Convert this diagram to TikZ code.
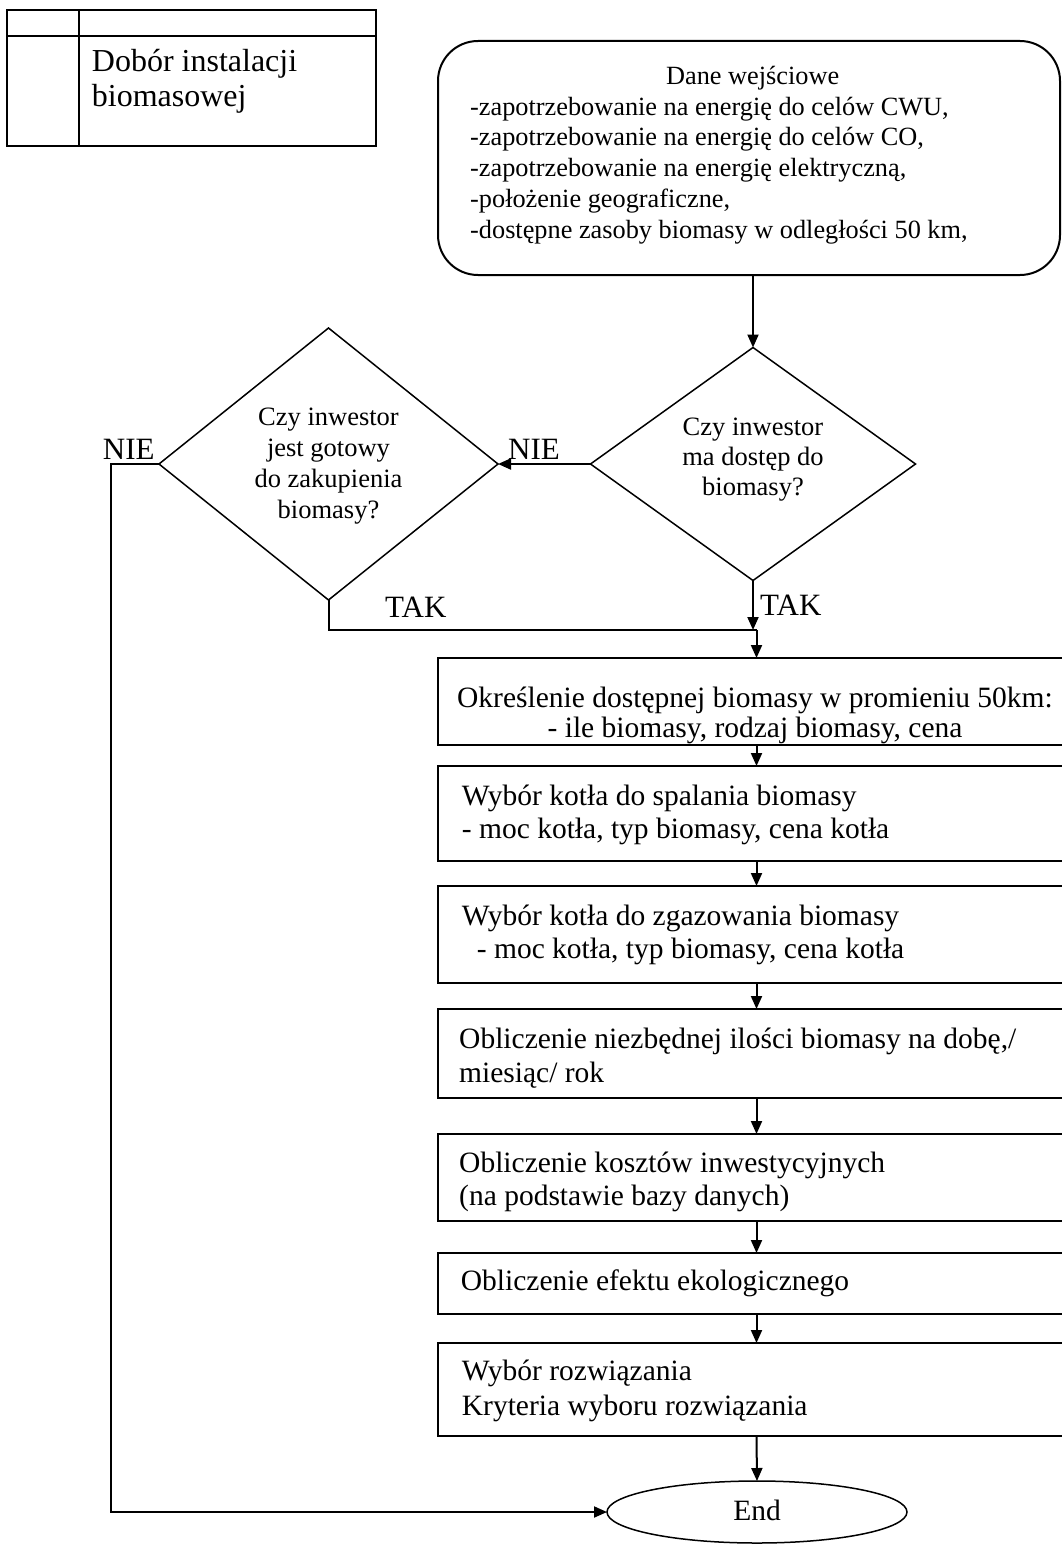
\documentclass[tikz,border=0pt]{standalone}
\usepackage{fontspec}
\setmainfont{Liberation Serif}
\usetikzlibrary{arrows.meta,shapes.geometric}
\begin{document}
\begin{tikzpicture}[x=1pt,y=-1pt,
  frame/.style={draw, line width=2pt},
  stepbox/.style={draw, line width=2pt, rectangle, inner sep=0pt, outer sep=0pt,
    minimum width=637pt, anchor=north west},
  decision/.style={draw, line width=1.5pt, diamond, inner sep=0pt, outer sep=0pt},
  arr/.style={line width=2pt, -{Triangle[length=13pt,width=11pt]}},
  conn/.style={line width=2pt},
  boxtxt/.style={inner sep=0pt, align=left, anchor=north west,
    font=\fontsize{29.5}{33}\selectfont},
  decisiontxt/.style={inner sep=0pt, align=center, anchor=north},
  tag/.style={inner sep=0pt, anchor=base west, font=\fontsize{31}{36}\selectfont}
]
\useasboundingbox (0,0) rectangle (1062,1544);
\clip (0,0) rectangle (1062,1544);

% title block
\draw[frame] (7,10) rectangle (376,146);
\draw[frame] (7,36) -- (376,36);
\draw[frame] (79,10) -- (79,146);
\node[inner sep=0pt, align=left, anchor=north west, font=\fontsize{32}{35}\selectfont]
  (title) at (91.7,47.2) {\strut Dobór instalacji\\biomasowej};

% input data
\node[draw, line width=2pt, rectangle, rounded corners=40pt, inner sep=0pt, outer sep=0pt,
  minimum width=622pt, minimum height=234pt] (dane) at (749,158) {};
\node[inner sep=0pt, anchor=base, font=\fontsize{26.3}{30.8}\selectfont]
  (danehead) at (752.7,85) {Dane wejściowe};
\node[inner sep=0pt, align=left, anchor=north west, font=\fontsize{26.3}{30.8}\selectfont]
  (danelist) at (470,93.4) {\strut -zapotrzebowanie na energię do celów CWU,\\
  -zapotrzebowanie na energię do celów CO,\\
  -zapotrzebowanie na energię elektryczną,\\
  -położenie geograficzne,\\
  -dostępne zasoby biomasy w odległości 50 km,};

% decisions
\node[decision, minimum width=325pt, minimum height=233pt] (d1) at (753,464) {};
\node[decisiontxt, font=\fontsize{26.5}{30.35}\selectfont] (d1txt) at (753,413.75)
  {\strut Czy inwestor\\ma dostęp do\\biomasy?};
\node[decision, minimum width=339pt, minimum height=272pt] (d2) at (328.5,464) {};
\node[decisiontxt, font=\fontsize{26.5}{31.1}\selectfont] (d2txt) at (328.5,403.2)
  {\strut Czy inwestor\\jest gotowy\\do zakupienia\\biomasy?};

% process steps
\node[stepbox, minimum height=87pt] (b1) at (438,658) {};
\node[inner sep=0pt, align=center, anchor=north, font=\fontsize{29.5}{30}\selectfont]
  (b1txt) at (755,686) {\strut Określenie dostępnej biomasy w promieniu 50km:\\- ile biomasy, rodzaj biomasy, cena};
\node[stepbox, minimum height=95pt] (b2) at (438,766) {};
\node[boxtxt] (b2txt) at (461.7,781.9) {\strut Wybór kotła do spalania biomasy\\- moc kotła, typ biomasy, cena kotła};
\node[stepbox, minimum height=97pt] (b3) at (438,886) {};
\node[boxtxt] (b3txt) at (461.7,901.9) {\strut Wybór kotła do zgazowania biomasy\\\hspace*{15pt}- moc kotła, typ biomasy, cena kotła};
\node[stepbox, minimum height=89pt] (b4) at (438,1009) {};
\node[boxtxt, font=\fontsize{29.5}{34}\selectfont] (b4txt) at (459,1024.2) {\strut Obliczenie niezbędnej ilości biomasy na dobę,/\\miesiąc/ rok};
\node[stepbox, minimum height=87pt] (b5) at (438,1134) {};
\node[boxtxt] (b5txt) at (459,1148.9) {\strut Obliczenie kosztów inwestycyjnych\\(na podstawie bazy danych)};
\node[stepbox, minimum height=61pt] (b6) at (438,1253) {};
\node[inner sep=0pt, anchor=base west, font=\fontsize{29.5}{33}\selectfont] (b6txt) at (460.7,1290) {Obliczenie efektu ekologicznego};
\node[stepbox, minimum height=93pt] (b7) at (438,1343) {};
\node[boxtxt, font=\fontsize{29.5}{35}\selectfont] (b7txt) at (461.7,1355.5) {\strut Wybór rozwiązania\\Kryteria wyboru rozwiązania};

% terminal
\node[draw, line width=1.5pt, ellipse, inner sep=0pt, outer sep=0pt,
  minimum width=300pt, minimum height=62pt] (endn) at (757,1512) {};
\node[inner sep=0pt, anchor=base, font=\fontsize{29.5}{33}\selectfont] (endtxt) at (757,1520) {End};

% connectors
\coordinate (j) at (756.5,630);
\coordinate (lc) at (111,464);
\draw[arr] (d1.north |- dane.south) -- (d1.north);
\draw[arr] (d1.west) -- (d2.east);
\draw[arr] (d1.south) -- (d1.south |- j);
\draw[conn] (d2.south) |- (j);
\draw[arr] (j) -- (b1.north);
\draw[arr] (d2.west) -- (lc) |- (endn.west);
\draw[arr] (b1.south) -- (b2.north);
\draw[arr] (b2.south) -- (b3.north);
\draw[arr] (b3.south) -- (b4.north);
\draw[arr] (b4.south) -- (b5.north);
\draw[arr] (b5.south) -- (b6.north);
\draw[arr] (b6.south) -- (b7.north);
\draw[arr] (b7.south) -- (endn.north);

% branch labels
\node[tag] (nieleft) at (102.7,459) {NIE};
\node[tag] (nieright) at (508,459) {NIE};
\node[tag] (takright) at (760,615) {TAK};
\node[tag] (takleft) at (385,617) {TAK};
\end{tikzpicture}
\end{document}
